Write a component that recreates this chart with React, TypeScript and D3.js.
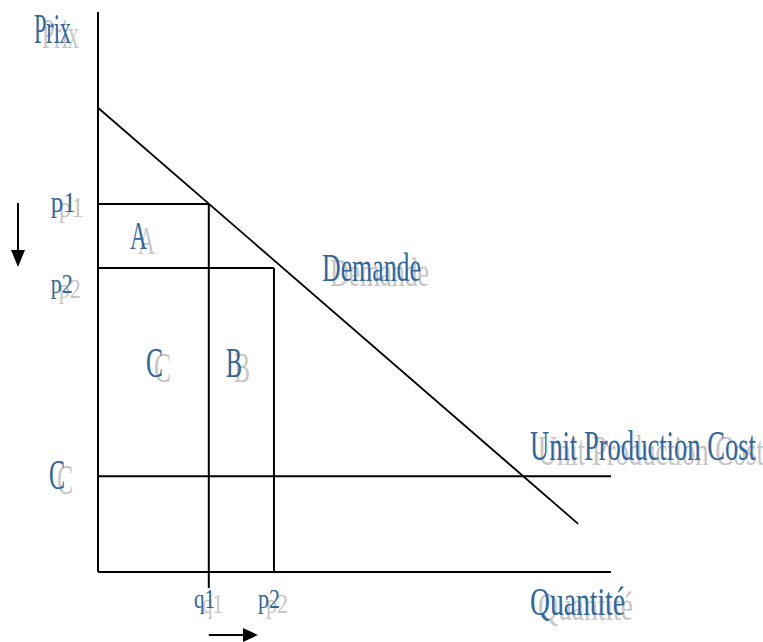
import React, { useEffect, useRef } from "react";
import * as d3 from "d3";

// quantities (x) and prices (y) in chart units
const quantities = { q1: 2.16, q2: 3.43 };
const prices = { p1: 6.57, p2: 5.43, cost: 1.71 };
const demand = [
  { q: 0, p: 8.29 },
  { q: 9.36, p: 0.86 },
];
const axisMax = { q: 10, p: 10 };

// label text, placement in chart units, font size and squeezed width
const labels = [
  { text: "Prix", q: -1.248, p: 9.45, size: 43, w: 37 },
  { text: "p1", q: -0.92, p: 6.43, size: 29, w: 25 },
  { text: "p2", q: -0.92, p: 4.98, size: 28, w: 22 },
  { text: "A", q: 0.624, p: 5.77, size: 41, w: 17 },
  { text: "C", q: 0.936, p: 3.48, size: 42, w: 17 },
  { text: "B", q: 2.495, p: 3.48, size: 42, w: 16 },
  { text: "Demande", q: 4.366, p: 5.2, size: 39, w: 99 },
  { text: "Unit Production Cost", q: 8.421, p: 2.0, size: 43, w: 226 },
  { text: "C", q: -0.955, p: 1.48, size: 43, w: 16 },
  { text: "q1", q: 1.871, p: -0.64, size: 28, w: 21 },
  { text: "p2", q: 3.119, p: -0.64, size: 28, w: 22 },
  { text: "Quantité", q: 8.421, p: -0.77, size: 40, w: 95 },
];

const W = 763, H = 642;

export default function App() {
  const ref = useRef<SVGSVGElement>(null);

  useEffect(() => {
    const svg = d3.select(ref.current);
    svg.selectAll("*").remove();

    const x = d3.scaleLinear().domain([0, axisMax.q]).range([98, 611]);
    const y = d3.scaleLinear().domain([0, axisMax.p]).range([572, 12]);

    const g = svg.append("g")
      .attr("fill", "none")
      .attr("stroke", "#000")
      .attr("stroke-width", 2);

    const seg = (x1: number, y1: number, x2: number, y2: number) =>
      g.append("line").attr("x1", x1).attr("y1", y1).attr("x2", x2).attr("y2", y2);

    // axes
    seg(x(0), y(0), x(0), y(axisMax.p));
    seg(x(0), y(0), x(axisMax.q), y(0));

    // unit cost line
    seg(x(0), y(prices.cost), x(axisMax.q), y(prices.cost));

    // p1 / q1 rectangle, q1 drop runs a bit past the axis
    seg(x(0), y(prices.p1), x(quantities.q1), y(prices.p1));
    seg(x(quantities.q1), y(prices.p1), x(quantities.q1), y(0) + 16);

    // p2 / q2 rectangle
    seg(x(0), y(prices.p2), x(quantities.q2), y(prices.p2));
    seg(x(quantities.q2), y(prices.p2), x(quantities.q2), y(0));

    // demand curve
    const line = d3.line<{ q: number; p: number }>()
      .x(d => x(d.q))
      .y(d => y(d.p));
    g.append("path").attr("d", line(demand)).attr("stroke-width", 1.8);

    // price falls arrow
    const ax = 18;
    const ay1 = y(prices.p1) - 1, ay2 = y(prices.p2) - 1;
    seg(ax, ay1, ax, ay2 - 14);
    svg.append("path")
      .attr("d", `M${ax - 7},${ay2 - 17}L${ax + 7},${ay2 - 17}L${ax},${ay2}Z`)
      .attr("fill", "#000");

    // quantity rises arrow
    const hy = 635;
    const hx1 = x(quantities.q1), hx2 = x(quantities.q2) - 16;
    seg(hx1, hy, hx2 - 12, hy);
    svg.append("path")
      .attr("d", `M${hx2 - 15},${hy - 7}L${hx2 - 15},${hy + 7}L${hx2},${hy}Z`)
      .attr("fill", "#000");

    // labels: grey shadow first, blue on top
    const tg = svg.append("g").attr("font-family", "'Liberation Serif', 'Times New Roman', serif");
    const draw = (dx: number, dy: number, color: string) => {
      tg.append("g")
        .selectAll("text")
        .data(labels)
        .join("text")
        .attr("x", d => x(d.q) + dx)
        .attr("y", d => y(d.p) + dy)
        .attr("font-size", d => d.size)
        .attr("textLength", d => d.w)
        .attr("lengthAdjust", "spacingAndGlyphs")
        .attr("fill", color)
        .text(d => d.text);
    };
    draw(8, 5, "#c6c6c6");
    draw(0, 0, "#2f67a1");
  }, []);

  return (
    <svg
      ref={ref}
      width={W}
      height={H}
      style={{ position: "absolute", left: 0, top: 0, background: "#fff" }}
    />
  );
}
